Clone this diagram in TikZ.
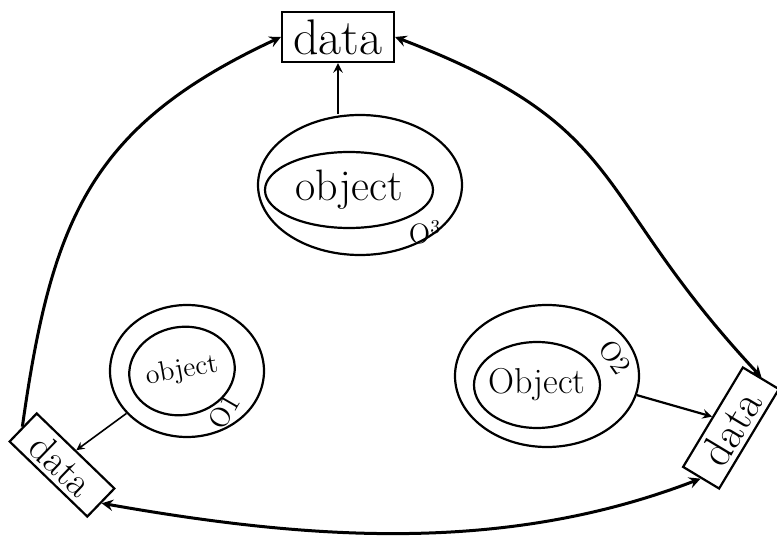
\documentclass[tikz,border=0pt]{standalone}
\usetikzlibrary{shapes.geometric}

\begin{document}
\begin{tikzpicture}[>=stealth,
            x=0.5pt, y=0.5pt,
            line width=1.1pt,
            databox/.style={draw, rectangle, inner sep=1pt},
            cell/.style={draw, ellipse, inner sep=0pt},
            link/.style={line width=1.5pt}
            ]
            \useasboundingbox (0,0) rectangle (777,-540);

            % data boxes
            \node[databox, minimum width=56pt, minimum height=25pt,
            font=\fontsize{25}{27}\selectfont] (d3) at (338,-37) {data};
            \node[databox, minimum width=54pt, minimum height=19.5pt, rotate=-44,
            font=\fontsize{20}{22}\selectfont] (d1) at (62,-465) {data};
            \node[databox, minimum width=58pt, minimum height=21pt, rotate=59,
            font=\fontsize{22}{24}\selectfont] (d2) at (731,-428) {data};

            % object O3
            \node[cell, minimum width=102pt, minimum height=70pt] (out3) at (360,-185) {};
            \node[cell, minimum width=84pt, minimum height=38pt,
            font=\fontsize{22}{24}\selectfont] (in3) at (349,-190) {object};
            \node[font=\fontsize{14}{16}\selectfont] (lab3) at (425,-232) {O\textsuperscript{3}};

            % object O1
            \node[cell, minimum width=77pt, minimum height=66pt] (out1) at (187,-371) {};
            \node[cell, minimum width=53pt, minimum height=44pt, rotate=10,
            font=\fontsize{14}{16}\selectfont] (in1) at (182,-371) {object};
            \node[rotate=60, font=\fontsize{14}{16}\selectfont] (lab1) at (224,-412) {O1};

            % object O2
            \node[cell, minimum width=92pt, minimum height=71pt] (out2) at (547,-376) {};
            \node[cell, minimum width=63pt, minimum height=43pt, inner xsep=-4.5pt,
            font=\fontsize{18}{20}\selectfont] (in2) at (537,-385) {Object};
            \node[rotate=-55, font=\fontsize{14}{16}\selectfont] (lab2) at (615,-357) {O2};

            \path
            (d3.south |- out3.north) edge[->]          (d3.south)
            (out1.215)               edge[->, line width=0.8pt] (d1.north)
            (out2.-12)               edge[->]          (d2.north);

            \path[link]
            (d1.west) edge[->, out=82, in=205, looseness=1.15]  (d3.west)
            (d3.east) edge[<->, out=-21, in=133, looseness=1.3] (d2.east)
            (d1.east) edge[<->, out=-10, in=201, looseness=0.9] (d2.west);
        \end{tikzpicture}
\end{document}
